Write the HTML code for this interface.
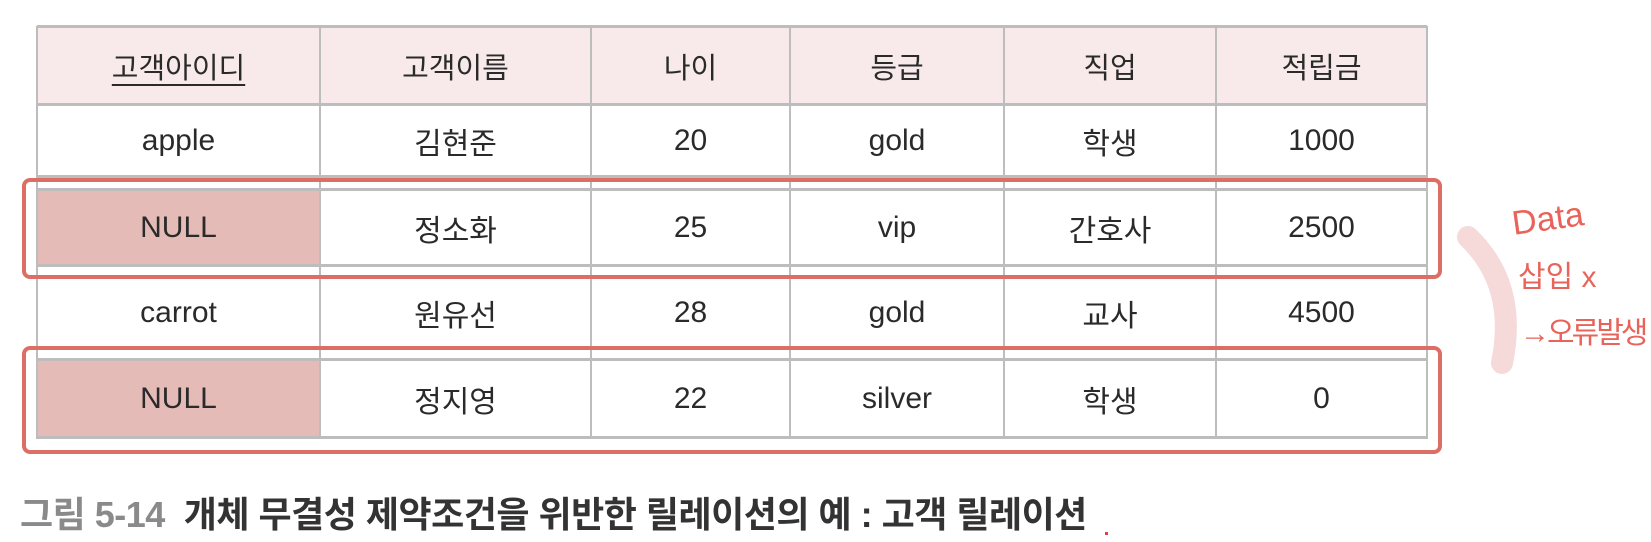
<!DOCTYPE html>
<html><head><meta charset="utf-8"><style>
body{margin:0;width:1651px;height:542px;background:#fff;position:relative;overflow:hidden;font-family:"Liberation Sans","Noto Sans CJK KR",sans-serif;}
.c{position:absolute;display:flex;align-items:center;justify-content:center;font-size:30px;color:#2a2a2a;box-sizing:border-box;}
.h{background:#f8eaea;}
.n{background:#e5bbb7;}
.vl{position:absolute;width:2px;background:#bdbdbd;}
.hl{position:absolute;height:3px;background:#bdbdbd;left:37px;width:1390px;}
.box{position:absolute;border:4px solid #dc6e66;border-radius:8px;box-sizing:border-box;}
.hw{position:absolute;color:#e8645a;font-family:"Liberation Sans","Noto Sans CJK KR",sans-serif;}
</style></head><body>
<div id="tbl"></div>
<div class="box" style="left:22px;top:178px;width:1420px;height:101px"></div>
<div class="box" style="left:22px;top:346px;width:1420px;height:108px"></div>
<svg style="position:absolute;left:1440px;top:215px" width="100" height="170">
<path d="M28,22 Q78,70 62,148" stroke="#f6dada" stroke-width="22" fill="none" stroke-linecap="round"/></svg>
<div class="hw" style="left:1512px;top:200px;font-size:34px;transform:rotate(-8deg)">Data</div>
<div class="hw" style="left:1518px;top:252px;font-size:30px">삽입 x</div>
<div class="hw" style="left:1520px;top:308px;font-size:30px;letter-spacing:-3px">→오류발생</div>
<div style="position:absolute;left:20px;top:486px;font-size:36px;font-weight:bold;color:#333;white-space:nowrap;letter-spacing:-0.5px"><span style="color:#8a8a8a">그림 5-14</span>&nbsp; 개체 무결성 제약조건을 위반한 릴레이션의 예 : 고객 릴레이션</div>
<div style="position:absolute;left:1105px;top:532px;width:3px;height:3px;background:#e04040"></div>
<script>
const headers=["고객아이디","고객이름","나이","등급","직업","적립금"];
const rows=[["apple","김현준","20","gold","학생","1000"],["NULL","정소화","25","vip","간호사","2500"],["carrot","원유선","28","gold","교사","4500"],["NULL","정지영","22","silver","학생","0"]];
const xs=[37,320,591,790,1004,1216,1427];
const ys=[[26,105],[105,177],[190,266],[278,347],[360,438]];
const t=document.getElementById('tbl');
function cell(txt,ri,ci,cls){const d=document.createElement('div');d.className='c '+cls;
d.style.left=xs[ci]+'px';d.style.width=(xs[ci+1]-xs[ci])+'px';d.style.top=ys[ri][0]+'px';d.style.height=(ys[ri][1]-ys[ri][0])+'px';
d.textContent=txt;


if(ri==0&&ci==0){d.style.textDecoration='underline';d.style.textUnderlineOffset='6px';}
if(ri==0)d.style.fontSize='29px';
t.appendChild(d);}
headers.forEach((h,i)=>cell(h,0,i,'h'));
rows.forEach((r,ri)=>r.forEach((v,ci)=>cell(v,ri+1,ci,v==='NULL'?'n':'')));
[26,104,176,189,265,277,347,359,437].forEach(y=>{const l=document.createElement('div');l.className='hl';l.style.top=(y-1)+'px';


t.appendChild(l);});
xs.forEach(x=>{const l=document.createElement('div');l.className='vl';l.style.left=(x-1)+'px';l.style.top='26px';l.style.height='413px';


t.appendChild(l);});
</script>
</body></html>
